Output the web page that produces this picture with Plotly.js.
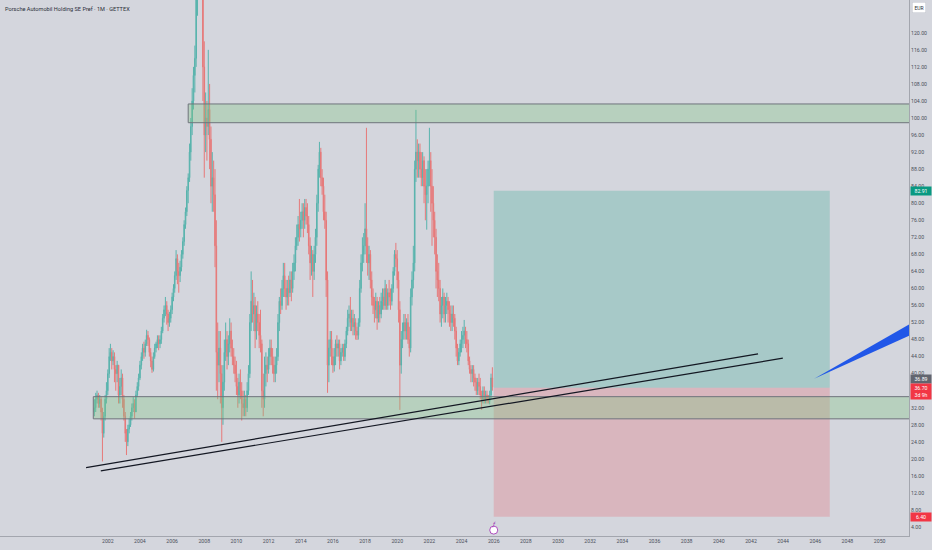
<!DOCTYPE html>
<html>
<head>
<meta charset="utf-8">
<script src="https://cdn.plot.ly/plotly-3.0.1.min.js"></script>
<style>
  html, body { margin: 0; padding: 0; background: #d4d6dd; }
  #chart { width: 932px; height: 550px; }
</style>
</head>
<body>
<div id="chart"></div>
<script>
// monthly candles, Mar 2001 .. Dec 2025 (one line per year)
const openPx = [
  31, 32, 34, 35, 33, 34, 31, 26, 30, 34,
  36, 40, 44, 45, 43, 44, 41, 40, 42, 35, 37, 39,
  34, 30, 26, 24, 27, 28, 30, 32, 33, 31, 35, 37,
  39, 42, 44, 46, 45, 47, 49, 48, 45, 43, 41, 44,
  46, 47, 48, 47, 48, 50, 53, 55, 56, 54, 52, 53,
  55, 58, 60, 63, 67, 64, 63, 65, 68, 71, 75, 78,
  83, 86, 92, 98, 104, 110, 114, 128, 135, 142, 148, 138,
  112, 96, 100, 98, 102, 95, 84, 86, 82, 70, 45, 42,
  46, 40, 32, 38, 45, 48, 44, 47, 50, 46, 44, 42,
  40, 37, 35, 38, 36, 33, 32, 34, 32, 36, 40, 52,
  57, 54, 56, 50, 54, 52, 49, 47, 36, 34, 40, 42,
  41, 44, 46, 44, 42, 40, 42, 44, 52, 57, 56, 60,
  63, 60, 58, 60, 59, 62, 60, 64, 66, 70, 72, 75,
  74, 76, 78, 76, 79, 77, 75, 70, 66, 68, 64, 68,
  72, 80, 88, 92, 86, 84, 78, 76, 62, 42, 46, 48,
  44, 42, 44, 47, 46, 47, 43, 45, 46, 44, 47, 50,
  53, 54, 52, 53, 51, 52, 50, 49, 52, 60, 66, 68,
  70, 74, 70, 66, 68, 62, 58, 56, 55, 57, 53, 56,
  54, 57, 58, 56, 60, 56, 59, 58, 57, 60, 64, 68,
  67, 62, 55, 42, 48, 50, 52, 50, 52, 48, 46, 58,
  62, 66, 88, 92, 90, 92, 88, 86, 90, 84, 82, 84,
  88, 90, 84, 80, 76, 72, 64, 62, 60, 54, 56, 58,
  54, 56, 57, 55, 54, 52, 54, 53, 50, 46, 43, 45,
  47, 48, 49, 50, 48, 47, 43, 41, 40, 41, 39, 38,
  36, 38, 37, 35, 34, 36, 34, 35, 34, 33.5, 35, 39
];
const highPx = [
  34, 35.5, 36, 35.5, 35, 34.5, 32, 31, 35, 38,
  41, 46, 47, 46, 45.5, 45, 42, 43, 42, 39, 41, 40,
  35, 31, 27, 28, 29.5, 31, 33, 34.5, 34, 36, 38, 40,
  43, 45, 47, 47.5, 48, 50.3, 50, 48.5, 46, 44, 45, 47,
  47.5, 49, 49, 49, 51, 54, 56, 58, 57, 55, 54.5, 56,
  59, 61, 64, 69, 68, 66, 66.5, 69, 72, 76, 79, 84,
  87, 94, 100, 107, 112, 117, 132, 140, 147, 155, 152, 140,
  118, 106, 104, 116, 108, 98, 92, 90, 88, 76, 52, 50,
  50, 42, 42, 48, 52, 50, 49, 53, 52, 48, 46, 44,
  43, 39, 40, 41, 38, 36, 36, 35, 38, 42, 54, 64,
  62, 59, 58, 56, 57, 54, 55, 48, 40, 44, 45, 44,
  46, 48, 48, 46, 44, 44, 46, 54, 58, 60, 62, 66,
  66, 62, 62, 63, 64, 64, 66, 68, 72, 75, 77, 81,
  78, 80, 80, 81, 81, 80, 77, 72, 70, 69, 70, 74,
  82, 89, 94.4, 93, 88, 86, 82, 78, 64, 48, 50, 50,
  46, 46, 48, 49, 48, 48, 46, 47, 47, 48, 51, 55,
  56, 58, 55, 55, 54, 53, 51, 53, 62, 68, 72, 73,
  80, 97.7, 72, 70, 69, 64, 60, 58, 59, 58, 57, 58,
  59, 60, 60, 62, 61, 60, 62, 60, 61, 65, 69, 70.7,
  69, 64, 57, 50, 52, 54, 54, 53, 54, 51, 60, 64,
  70, 90, 101.9, 95, 94, 94, 92, 92, 91, 88, 88, 90,
  97.7, 92, 88, 84, 78, 74, 68, 66, 62, 58, 60, 59,
  58, 59, 58, 57, 56, 56, 56, 54, 51, 47, 46, 48,
  50, 51, 52.6, 51, 50, 48, 44, 42, 42, 42, 40, 39,
  39, 40, 39, 36, 37, 37, 36, 36, 35, 36, 40, 41.5
];
const lowPx = [
  30, 31, 33, 32, 32, 29, 19.4, 25, 29, 33,
  35, 39, 43, 41, 42, 38, 36, 38, 33, 33, 35, 32,
  29, 24, 20.9, 23, 26, 27.5, 29, 31, 29.5, 31, 34.5, 36,
  38.5, 41, 43, 43.5, 44, 46.5, 46.5, 44, 41.5, 40.2, 40.5, 43.5,
  45, 46, 45.5, 46, 47, 49.5, 52, 53.5, 51.5, 50, 51, 52,
  54, 57, 59, 62, 61, 59, 61.5, 64, 67, 70, 74, 77,
  80, 85, 90, 96, 102, 106, 112, 124, 132, 138, 130, 104,
  86, 92, 90, 96, 88, 80, 78, 78, 65, 36, 34, 38,
  33, 24, 28, 36, 43, 41, 42, 45, 44, 42, 40, 38,
  35, 32, 33, 34, 29, 30, 30, 30, 31, 35, 39, 50,
  52, 50, 46, 48, 50, 46, 45, 32, 30, 32, 37, 38,
  40, 42, 42, 40, 38, 38, 40, 43, 50, 54, 55, 58,
  58, 55, 56, 56, 58, 57, 59, 62, 64, 69, 70, 71,
  72, 74, 72, 74, 75, 73, 68, 62, 63, 58, 62, 66,
  70, 78, 86, 84, 82, 76, 74, 58, 35.5, 38, 44, 42,
  40.2, 40.5, 42, 44, 44, 41, 42, 44, 43, 43, 46, 49,
  51, 50, 50, 49, 49, 48, 47.9, 48, 51, 59, 64, 66,
  68, 66, 63, 62, 60, 56, 54, 52, 53, 50.3, 52, 52,
  53, 55, 55, 55, 55, 55, 56, 55, 56, 59, 63, 65,
  60, 52, 31.5, 40, 46, 48, 48, 48, 47, 44, 45, 56,
  60, 64, 85, 86, 86, 86, 84, 84, 80, 76, 73.8, 80,
  84, 78, 70, 72, 68, 60, 58, 57, 52, 51, 53, 52,
  52, 54, 52, 51, 50, 50, 51, 48, 44, 42, 42, 44,
  45, 46, 47, 46, 45, 42, 40, 38, 38, 37, 36, 35,
  35, 35, 34, 31.5, 33, 33, 33, 33, 33, 32.8, 34, 36
];
const closePx = [
  32, 34, 35, 33, 34, 31, 26, 30, 34, 36,
  40, 44, 45, 43, 44, 41, 40, 42, 35, 37, 39, 34,
  30, 26, 24, 27, 28, 30, 32, 33, 31, 35, 37, 39,
  42, 44, 46, 45, 47, 49, 48, 45, 43, 41, 44, 46,
  47, 48, 47, 48, 50, 53, 55, 56, 54, 52, 53, 55,
  58, 60, 63, 67, 64, 63, 65, 68, 71, 75, 78, 83,
  86, 92, 98, 104, 110, 114, 128, 135, 142, 148, 138, 112,
  96, 100, 98, 102, 95, 84, 86, 82, 70, 45, 42, 46,
  40, 32, 38, 45, 48, 44, 47, 50, 46, 44, 42, 40,
  37, 35, 38, 36, 33, 32, 34, 32, 36, 40, 52, 57,
  54, 56, 50, 54, 52, 49, 47, 36, 34, 40, 42, 41,
  44, 46, 44, 42, 40, 42, 44, 52, 57, 56, 60, 63,
  60, 58, 60, 59, 62, 60, 64, 66, 70, 72, 75, 74,
  76, 78, 76, 79, 77, 75, 70, 66, 68, 64, 68, 72,
  80, 88, 92, 86, 84, 78, 76, 62, 42, 46, 48, 44,
  42, 44, 47, 46, 47, 43, 45, 46, 44, 47, 50, 53,
  54, 52, 53, 51, 52, 50, 49, 52, 60, 66, 68, 70,
  74, 70, 66, 68, 62, 58, 56, 55, 57, 53, 56, 54,
  57, 58, 56, 60, 56, 59, 58, 57, 60, 64, 68, 67,
  62, 55, 42, 48, 50, 52, 50, 52, 48, 46, 58, 62,
  66, 88, 92, 90, 92, 88, 86, 90, 84, 82, 84, 88,
  90, 84, 80, 76, 72, 64, 62, 60, 54, 56, 58, 54,
  56, 57, 55, 54, 52, 54, 53, 50, 46, 43, 45, 47,
  48, 49, 50, 48, 47, 43, 41, 40, 41, 39, 38, 36,
  38, 37, 35, 34, 36, 34, 35, 34, 33.5, 35, 39, 36.89
];

// drawings on the chart
const supplyZone = [98.9, 103.3];
const demandZone = [29.4, 34.6];
const zoneStart = ['2007-01-01', '2001-02-05'];
const positionSpan = ['2026-01-01', '2046-11-25'];
const targetPrice = 82.91;
const entryPrice = 36.70;
const stopPrice = 6.40;
const lastPrice = 36.89;
const trendAX = ['2000-08-25', '2042-06-10'];
const trendAY = [17.96, 44.65];
const trendBX = ['2001-07-25', '2043-12-25'];
const trendBY = [17.2, 43.64];
const arrowX = ['2045-12-05', '2052-06-15', '2052-06-15'];
const arrowY = [38.8, 52.9, 50.0];

// axis ticks (36.00 sits under the price tags, as in the original)
const priceTicks = [4, 8, 12, 16, 20, 24, 28, 32, 40, 44, 48, 52, 56, 60, 64, 68, 72, 76, 80, 84,
  88, 92, 96, 100, 104, 108, 112, 116, 120];
const yearTicks = [];
for (let y = 2002; y <= 2050; y += 2) yearTicks.push(y + '-01-01');

const months = [];
for (let i = 0; i < closePx.length; i++) {
  const m = 2 + i;
  months.push((2001 + Math.floor(m / 12)) + '-' + String(m % 12 + 1).padStart(2, '0') + '-01');
}

const candles = {
  type: 'candlestick',
  x: months, open: openPx, high: highPx, low: lowPx, close: closePx,
  increasing: { line: { color: '#26a69a', width: 1 }, fillcolor: '#26a69a' },
  decreasing: { line: { color: '#ef5350', width: 1 }, fillcolor: '#ef5350' },
  whiskerwidth: 0,
  opacity: 0.7,
  hoverinfo: 'skip',
  showlegend: false
};

const arrow = {
  type: 'scatter', mode: 'lines',
  x: arrowX, y: arrowY,
  fill: 'toself', fillcolor: '#2157e8',
  line: { width: 0, color: '#2157e8' },
  hoverinfo: 'skip', showlegend: false
};

const zone = (x0, lev) => ({
  type: 'rect', xref: 'x', yref: 'y', layer: 'above',
  x0: x0, x1: '2056-01-01', y0: lev[0], y1: lev[1],
  fillcolor: 'rgba(129,199,132,0.35)',
  line: { color: '#6f747c', width: 1 }
});

const tline = (xs, ys) => ({
  type: 'line', xref: 'x', yref: 'y', layer: 'above',
  x0: xs[0], x1: xs[1], y0: ys[0], y1: ys[1],
  line: { color: '#131722', width: 1.2 }
});

const tag = (val, text, bg, yshift) => ({
  xref: 'paper', yref: 'y', x: 1, y: val, xanchor: 'left', yanchor: 'middle',
  xshift: 1, yshift: yshift, text: text, showarrow: false,
  bgcolor: bg, width: 18, borderpad: 1,
  font: { family: 'Roboto, sans-serif', size: 5.2, color: '#ffffff' }
});

const layout = {
  width: 932, height: 550,
  margin: { l: 0, r: 23, t: 0, b: 14, pad: 0 },
  paper_bgcolor: '#d4d6dd',
  plot_bgcolor: '#d4d6dd',
  showlegend: false,
  font: { family: 'Roboto, sans-serif', size: 5.2, color: '#4a4e5a' },
  xaxis: {
    type: 'date',
    range: ['1995-04-19', '2051-10-30'],
    tickmode: 'array', tickvals: yearTicks, tickformat: '%Y',
    showgrid: false, zeroline: false,
    showline: true, linecolor: '#a3a6ae', linewidth: 1,
    ticks: '', ticklen: 0,
    rangeslider: { visible: false },
    tickfont: { size: 5.2, color: '#4a4e5a' },
    fixedrange: true
  },
  yaxis: {
    side: 'right',
    range: [1.9, 127.7],
    tickmode: 'array', tickvals: priceTicks, tickformat: '.2f',
    showgrid: false, zeroline: false,
    showline: true, linecolor: '#a3a6ae', linewidth: 1,
    ticks: '', ticklen: 0,
    tickfont: { size: 5.2, color: '#4a4e5a' },
    fixedrange: true
  },
  shapes: [
    { type: 'rect', xref: 'x', yref: 'y', layer: 'below',
      x0: positionSpan[0], x1: positionSpan[1], y0: entryPrice, y1: targetPrice,
      fillcolor: 'rgba(8,153,129,0.22)', line: { width: 0 } },
    { type: 'rect', xref: 'x', yref: 'y', layer: 'below',
      x0: positionSpan[0], x1: positionSpan[1], y0: stopPrice, y1: entryPrice,
      fillcolor: 'rgba(242,54,69,0.2)', line: { width: 0 } },
    zone(zoneStart[0], supplyZone),
    zone(zoneStart[1], demandZone),
    tline(trendAX, trendAY),
    tline(trendBX, trendBY),
    { type: 'circle', xref: 'x', yref: 'paper', xsizemode: 'pixel', ysizemode: 'pixel',
      xanchor: '2026-01-01', yanchor: 0.011, x0: -4, x1: 4, y0: -4, y1: 4,
      fillcolor: '#ffffff', line: { color: '#9c27b0', width: 0.8 }, layer: 'above' }
  ],
  annotations: [
    { xref: 'paper', yref: 'paper', x: 0, y: 1, xanchor: 'left', yanchor: 'top',
      xshift: 3, yshift: -4, showarrow: false,
      text: 'Porsche Automobil Holding SE Pref · 1M · GETTEX',
      font: { family: 'Roboto, sans-serif', size: 5.6, color: '#2a2e39' } },
    { xref: 'paper', yref: 'paper', x: 1, y: 1, xanchor: 'left', yanchor: 'top',
      xshift: 3, yshift: -2, showarrow: false, text: 'EUR',
      bgcolor: '#ffffff', bordercolor: '#c3c6ce', borderwidth: 0.5, borderpad: 2,
      font: { family: 'Roboto, sans-serif', size: 5, color: '#2a2e39' } },
    { xref: 'x', yref: 'paper', x: '2026-01-01', y: 0.011, showarrow: false,
      text: '<i>ƒ</i>', font: { family: 'DejaVu Sans, sans-serif', size: 5.5, color: '#9c27b0' } },
    tag(targetPrice, targetPrice.toFixed(2), '#089981', 0),
    tag(lastPrice, lastPrice.toFixed(2), '#62656f', 8),
    tag(entryPrice, entryPrice.toFixed(2) + '<br>3d 9h', '#f23645', -4),
    tag(stopPrice, stopPrice.toFixed(2), '#f23645', 0)
  ]
};

Plotly.newPlot('chart', [candles, arrow], layout, { displayModeBar: false, staticPlot: true });
</script>
</body>
</html>
